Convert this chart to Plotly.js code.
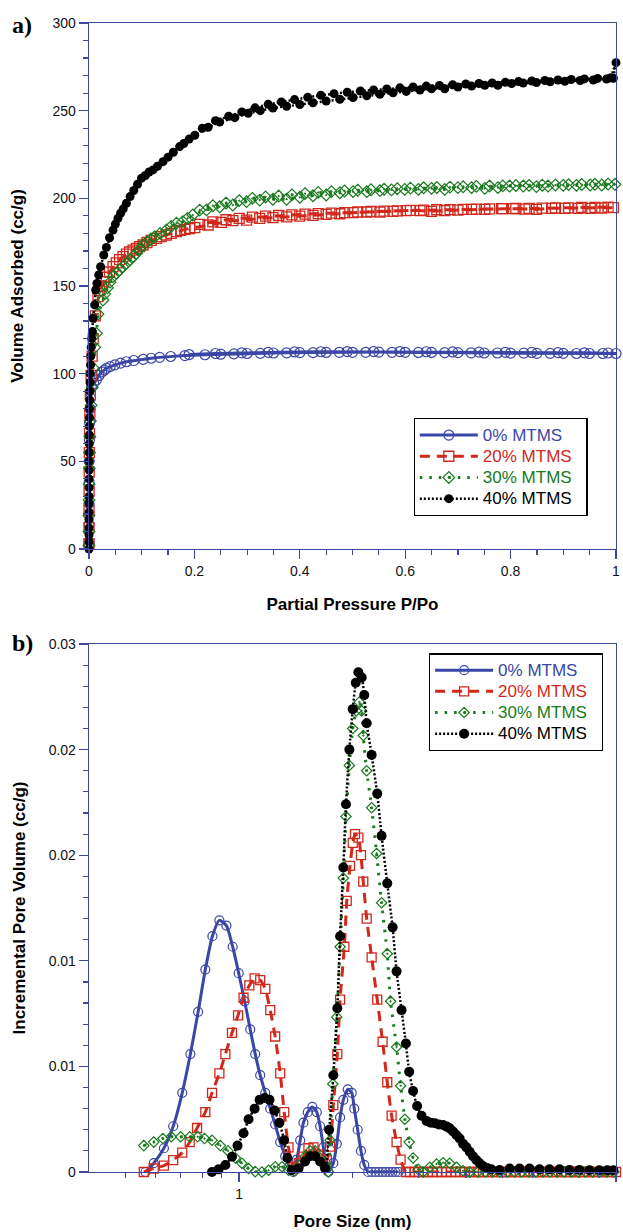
<!DOCTYPE html>
<html>
<head>
<meta charset="utf-8">
<script src="https://cdn.plot.ly/plotly-3.0.1.min.js"></script>
<style>html,body{margin:0;padding:0;background:#fff;}#chart{width:623px;height:1232px;}</style>
</head>
<body>
<div id="chart"></div>
<script>
// ---------- (a) Isotherms: Partial pressure P/Po vs volume adsorbed (cc/g) ----------
const SERIES = ['0% MTMS', '20% MTMS', '30% MTMS', '40% MTMS'];

const ISO_P_0 = [0.00001,0.00004,0.0001,0.0002,0.0004,0.0007,0.0012,0.002,0.003,0.0048,
  0.009,0.014,0.019,0.024,0.029,0.033,0.04,0.049,0.06,0.071,
  0.085,0.103,0.118,0.134,0.155,0.182,0.22,
  0.25,0.275,0.3,0.325,0.35,0.375,0.4,0.425,0.45,0.475,
  0.5,0.525,0.55,0.575,0.6,0.625,0.65,0.675,0.7,0.725,
  0.75,0.775,0.8,0.825,0.85,0.875,0.9,0.925,0.95,0.975,1.0];
const ISO_V_0 = [3,14,26,38,50,62,72,80,86,92.6,
  94.5,96.4,99,101,102,103,104,105,106,106.8,
  107.5,108.2,108.8,109.3,109.8,110.3,110.8,
  111.1,111.3,111.5,111.6,111.8,111.9,112,112,112.1,112.2,
  112.2,112.2,112.3,112.2,112.2,112.1,112.1,112,112,111.9,
  111.8,111.8,111.7,111.7,111.6,111.6,111.6,111.5,111.5,111.5,111.5];
const DES_P_0 = [0.985,0.94,0.89,0.84,0.79,0.74,0.69,0.64,0.59,0.54,0.49,0.44,0.39,0.34,0.29,0.24,0.19];
const DES_V_0 = [111.8,111.9,112,112.1,112.2,112.3,112.4,112.5,112.6,112.6,112.6,112.5,112.4,112.2,111.9,111.5,110.9];

const ISO_P_20 = [0.00001,0.00004,0.0001,0.0002,0.00035,0.0006,0.001,0.0016,0.0025,0.004,
  0.006,0.008,0.012,0.017,0.02,0.024,0.028,0.033,0.039,0.0456,
  0.052,0.058,0.0646,0.071,0.077,0.0835,0.09,0.096,0.1025,0.11,
  0.118,0.128,0.137,0.147,0.156,0.166,0.174,0.182,0.191,0.2007,
  0.226,0.251,0.273,0.299,0.324,0.349,0.375,0.40,0.425,0.45,
  0.476,0.501,0.527,0.552,0.577,0.602,0.628,0.65,0.675,0.70,
  0.726,0.751,0.783,0.805,0.827,0.849,0.878,0.903,0.928,0.951,
  0.973,0.995];
const ISO_V_20 = [3,12,22,33,44,55,66,77,88,99,
  110,120,133,144,147.5,150,152.5,155,158,161,
  163.2,165,166.7,168.2,169.4,170.5,171.5,172.5,173.4,174.8,
  176,177.2,178.2,179.1,180,181,181.7,182.3,182.8,183.3,
  184.8,186.3,187.3,187.6,188.6,189,189.4,189.9,190.3,190.9,
  191.2,191.8,192.2,192.2,192.6,193,193,192.6,193,193.3,
  193.7,193.7,194.1,194.1,193.9,193.7,194.3,194.3,194.3,194.3,
  194.5,194.7];
const DES_P = [0.985,0.96,0.935,0.91,0.885,0.86,0.835,0.81,0.785,0.76,
  0.735,0.71,0.685,0.66,0.635,0.61,0.585,0.56,0.535,0.51,
  0.485,0.46,0.435,0.41,0.385,0.36,0.335,0.31,0.285,0.26,0.235,0.21];
const DES_V_20 = [195,194.9,194.8,194.6,194.5,194.4,194.3,194.2,194.1,194,
  193.9,193.7,193.6,193.5,193.3,193.1,192.9,192.7,192.5,192.2,
  191.9,191.6,191.3,191,190.6,190.2,189.8,189.3,188.6,187.8,186.6,185.2];

const ISO_P_30 = [0.00001,0.00004,0.0001,0.0002,0.00035,0.0006,0.001,0.0016,0.0025,0.004,
  0.006,0.0085,0.0108,0.014,0.017,0.0266,0.03,0.035,0.04,0.0456,
  0.052,0.058,0.064,0.071,0.078,0.084,0.09,0.096,0.1025,0.11,
  0.117,0.1247,0.135,0.147,0.156,0.166,0.178,0.187,0.197,
  0.223,0.248,0.273,0.299,0.324,0.349,0.375,0.40,0.425,0.45,
  0.476,0.501,0.527,0.552,0.574,0.599,0.625,0.65,0.675,0.70,
  0.726,0.751,0.776,0.798,0.824,0.849,0.871,0.90,0.925,0.951,
  0.973,0.998];
const ISO_V_30 = [2,10,19,28,37,46,55,64,73,82,
  92,103,115,123,134,142,145.5,149,152.2,155.3,
  157.3,159.1,161,162.9,165,166.8,168.6,171,173.4,175,
  176.7,178.1,180,182,184,185.8,186.7,188.6,190.5,
  193.4,195.2,196.2,198.1,199,199.5,199.5,200.6,201.5,201.9,
  203.2,203.8,203.8,204.4,204.8,205.1,205.1,205.7,205.1,206.1,
  206.1,205.7,206.1,207,207,206.7,207,207.4,207.4,207.6,
  207.6,208];
const DES_V_30 = [208.2,208,207.9,207.8,207.6,207.5,207.4,207.3,207.1,207,
  206.8,206.6,206.4,206.2,206,205.8,205.5,205.2,204.9,204.6,
  204.2,203.8,203.4,202.7,202,201.3,200.8,200,198.7,197.3,195.8,193.3];

const ISO_P_40 = [0.000005,0.00001,0.00002,0.00003,0.00005,0.00007,0.0001,0.00013,0.00017,0.00022,
  0.00028,0.00035,0.00043,0.00052,0.00063,0.00076,0.0009,0.0011,0.0013,0.0016,
  0.0019,0.0023,0.0028,0.0034,0.0042,0.0053,0.0065,0.0076,
  0.0108,0.0127,0.015,0.0184,0.022,0.028,0.033,0.039,0.0456,0.05,
  0.055,0.06,0.065,0.071,0.078,0.085,0.092,0.0995,0.107,0.114,
  0.1215,0.13,0.1405,0.15,0.16,0.172,0.18,0.19,0.2007,
  0.226,0.248,0.2766,0.302,0.325,0.349,0.375,0.40,0.425,0.45,
  0.476,0.501,0.527,0.552,0.577,0.602,0.628,0.65,0.675,0.70,
  0.726,0.751,0.776,0.802,0.824,0.849,0.875,0.903,0.932,0.957,
  0.982,0.995,1.0];
const ISO_V_40 = [0,4,8,12,17,21,26,30,35,40,
  45,50,55,60,65,70,75,80,85,90,
  95,100,105,110,115,120,124,131.6,
  139.2,147.7,151.5,156.3,161,167.7,172,177.5,181.9,185.3,
  188.6,191.5,194,197.2,201,204.5,208,211.4,213,215,
  216.2,218.3,220.9,223.5,226.3,229.5,231.3,233.8,236,
  240.5,243.5,246,248.5,250,251.5,252.5,253.5,254.5,255.5,
  256.5,257.5,258.5,259.3,260.2,261,261.8,262.5,262.5,263.5,
  264,264.5,264.5,265.5,265.8,266,266.5,266.8,267.2,267.5,
  268,268.5,277.4];
const DES_P_40 = [0.99,0.965,0.94,0.915,0.89,0.865,0.84,0.815,0.79,0.765,
  0.74,0.715,0.69,0.665,0.64,0.615,0.59,0.565,0.54,0.515,
  0.49,0.465,0.44,0.415,0.39,0.365,0.34,0.315,0.29,0.265,0.24,0.215];
const DES_V_40 = [268.8,268.4,268.1,267.8,267.5,267.2,266.9,266.6,266.2,265.8,
  265.5,265.2,264.8,264.4,264,263.5,263,262.4,261.8,261.2,
  260.5,259.7,258.8,257.6,256.3,255,253.6,251.6,249.3,246.8,244.3,240];

// ---------- (b) Pore size distribution: pore size (nm) vs incremental pore volume (cc/g) ----------
const PSD_X_0 = [0.565,0.594,0.632,0.669,0.707,0.743,0.779,0.814,0.850,0.887,
  0.926,0.962,0.998,1.035,1.071,1.104,1.138,1.174,1.21,1.247,
  1.286,1.326,1.359,1.392,1.423,1.453,1.482,1.522,1.565,1.608,
  1.641,1.674,1.699,1.726,1.779,1.817,1.854,1.891,1.943,1.991,
  2.022,2.064,2.106,2.149,2.202,2.25,2.3,2.35,2.4,2.45,
  2.5,2.55,2.6,2.65];
const PSD_V_0 = [0,0.0005,0.00135,0.0026,0.0045,0.0067,0.0091,0.0115,0.0134,0.0143,
  0.014,0.0128,0.0113,0.0097,0.0081,0.0067,0.0055,0.0045,0.0036,0.0027,
  0.0017,0.0009,0.0003,0,0.0007,0.0018,0.0028,0.0034,0.0037,0.0034,
  0.0026,0.0014,0.0005,0,0.0005,0.0016,0.0031,0.0041,0.0047,0.0045,
  0.0036,0.0024,0.0012,0.0004,0,0,0,0,0,0,
  0,0,0,0];

const PSD_X_20 = [0.559,0.594,0.632,0.669,0.707,0.740,0.774,0.814,0.848,0.887,
  0.920,0.958,0.994,1.028,1.065,1.10,1.138,1.174,1.21,1.247,
  1.286,1.318,1.353,1.394,1.44,1.482,1.528,1.576,1.62,1.67,
  1.71,1.744,1.779,1.823,1.854,1.903,1.931,1.97,2.003,2.031,
  2.073,2.106,2.136,2.181,2.248,2.326,2.404,2.473,2.54,2.618,
  2.683,2.771,
  2.84,2.92,3.0,3.08,3.17,3.26,3.35,3.45,3.55,3.65,
  3.75,3.86,3.97,4.08,4.2,4.32,4.44,4.57,4.7,4.83,
  4.97,5.11,5.26,5.41,5.56,5.72,5.88,6.05,6.22,6.4,
  6.58,6.77,6.96,7.16,7.37,7.58,7.8,8.02,8.25,8.48,
  8.72,8.97,9.23,9.49,9.76,10];
const PSD_V_20 = [0,0.0002,0.00036,0.00068,0.0011,0.0017,0.0025,0.0034,0.0045,0.0056,
  0.0067,0.0079,0.0089,0.0099,0.0106,0.011,0.0109,0.0104,0.0092,0.0077,
  0.0056,0.0034,0.0014,0.0003,0.0005,0.00087,0.00135,0.0014,0.001,0.0007,
  0.0007,0.00144,0.0038,0.0067,0.0098,0.0128,0.0154,0.0174,0.0187,0.0192,
  0.019,0.018,0.0165,0.0144,0.0122,0.0098,0.0074,0.0051,0.0032,0.0017,
  0.0007,0,
  0,0,0,0,0,0,0,0,0,0,
  0,0,0,0,0,0,0,0,0,0,
  0,0,0,0,0,0,0,0,0,0,
  0,0,0,0,0,0,0,0,0,0,
  0,0,0,0,0,0];

const PSD_X_30 = [0.559,0.594,0.628,0.661,0.70,0.74,0.777,0.81,0.848,0.892,
  0.935,0.978,1.018,1.06,1.104,1.15,1.198,1.247,1.30,1.353,
  1.40,1.45,1.50,1.544,1.592,1.641,1.692,1.726,1.744,1.773,
  1.817,1.854,1.891,1.922,1.962,2.003,2.045,2.085,2.116,2.136,
  2.181,2.248,2.317,2.389,2.473,2.524,2.618,2.683,2.754,2.827,
  2.896,2.987,3.078,3.207,3.341,3.477,3.622,3.773,3.929,4.092,
  4.3,4.5,4.7,4.92,5.15,5.38,5.62,5.87,6.13,6.4,
  6.68,6.98,7.29,7.61,7.95,8.3,8.67,9.05,9.45,9.87];
const PSD_V_30 = [0.0015,0.0017,0.0019,0.002,0.002,0.002,0.002,0.0019,0.0018,0.0015,
  0.0012,0.0008,0.0005,0.0002,0.00002,0,0.0001,0.0003,0.0003,0.0001,
  0.00005,0.0004,0.0009,0.0012,0.0012,0.0008,0.0003,0,0.0018,0.005,
  0.0088,0.0128,0.0167,0.0202,0.0231,0.0252,0.0262,0.0267,0.0262,0.0248,
  0.0228,0.0207,0.0181,0.0153,0.0124,0.0097,0.0071,0.0049,0.003,0.0017,
  0.0008,0.00015,0,0.00027,0.00045,0.00053,0.0005,0.00027,0.00007,0,
  0,0,0,0,0,0,0,0,0,0,
  0,0,0,0,0,0,0,0,0,0];

const PSD_X_40 = [0.848,0.883,0.92,0.958,0.991,1.028,1.06,1.10,1.134,1.169,
  1.205,1.242,1.28,1.317,1.344,1.38,1.438,1.497,1.544,1.592,
  1.641,1.692,1.734,1.779,1.823,1.854,1.891,1.922,1.962,2.003,
  2.04,2.073,2.116,2.149,2.181,2.248,2.326,2.389,2.473,2.555,
  2.618,2.699,2.771,2.827,2.896,2.968,3.049,3.144,3.227,3.306,
  3.388,3.477,3.557,3.622,3.696,3.773,3.849,3.929,4.011,4.092,
  4.175,4.262,4.348,4.437,4.552,4.67,4.913,5.222,5.548,5.897,
  6.268,6.662,7.08,7.525,7.998,8.5,9.03,9.48,9.84];
const PSD_V_40 = [0,0.00015,0.0004,0.00087,0.0015,0.0022,0.003,0.0036,0.0041,0.0042,
  0.0041,0.0035,0.0028,0.0018,0.0008,0.0001,0.0002,0.0006,0.0009,0.0009,
  0.0006,0.0002,0.0024,0.0055,0.0093,0.0134,0.0173,0.0209,0.024,0.0263,
  0.0278,0.0284,0.0281,0.0271,0.0255,0.0237,0.0215,0.0191,0.0164,0.0139,
  0.0114,0.0092,0.0073,0.0057,0.0046,0.00375,0.0032,0.0029,0.0028,0.00277,
  0.0027,0.00267,0.00258,0.00248,0.0023,0.0021,0.0019,0.0016,0.0014,0.00115,
  0.0009,0.00068,0.0005,0.00034,0.00022,0.00015,0.00011,0.0002,0.0002,0.0002,
  0.00015,0.00015,0.00015,0.00012,0.00012,0.0001,0.0001,0.0001,0.0001];

// tick labels
const PSD_Y_TICKS = [0, 0.006, 0.012, 0.018, 0.024, 0.03];
const PSD_Y_LABELS = ['0', '0.01', '0.01', '0.02', '0.02', '0.03'];
const PSD_Y_MINOR = [0.0012,0.0024,0.0036,0.0048,0.0072,0.0084,0.0096,0.0108,0.0132,0.0144,0.0156,0.0168,0.0192,0.0204,0.0216,0.0228,0.0252,0.0264,0.0276,0.0288];
const PSD_X_TICKS = [1, 10];
const PSD_X_LABELS = ['1', '10'];
const PSD_X_MINOR = [0.5,0.6,0.7,0.8,0.9,2,3,4,5,6,7,8,9];

// ---------- styling ----------
const FONT = 'Liberation Sans, Arial, Helvetica, sans-serif';
const AXIS = '#3d49a0';
const COLORS = ['#3b47a6', '#d2281c', '#1a7a1e', '#000000'];

function nm(i) {
  return '<span style="color:' + COLORS[i] + ';font-size:17px">' + SERIES[i] + '\u00a0\u00a0</span>';
}

const styles = [
  {line: {color: COLORS[0], width: 3, dash: 'solid'}, marker: {symbol: 'circle-open', color: COLORS[0], size: 10, line: {width: 1.2, color: COLORS[0]}}},
  {line: {color: COLORS[1], width: 3, dash: '10px,7px'}, marker: {symbol: 'square-open', color: COLORS[1], size: 10, line: {width: 1.3, color: COLORS[1]}}},
  {line: {color: COLORS[2], width: 3, dash: '2.5px,7px'}, marker: {symbol: 'diamond-open-dot', color: COLORS[2], size: 9, line: {width: 1.2, color: COLORS[2]}}},
  {line: {color: COLORS[3], width: 2.5, dash: '2px,2px'}, marker: {symbol: 'circle', color: COLORS[3], size: 9, line: {width: 0}}}
];

const isoX = [ISO_P_0.concat(DES_P_0), ISO_P_20.concat(DES_P), ISO_P_30.concat(DES_P), ISO_P_40.concat(DES_P_40)];
const isoY = [ISO_V_0.concat(DES_V_0), ISO_V_20.concat(DES_V_20), ISO_V_30.concat(DES_V_30), ISO_V_40.concat(DES_V_40)];
const psdX = [PSD_X_0, PSD_X_20, PSD_X_30, PSD_X_40];
const psdY = [PSD_V_0, PSD_V_20, PSD_V_30, PSD_V_40];

const traces = [];
for (let i = 0; i < 4; i++) {
  traces.push({
    type: 'scatter', mode: 'lines+markers', x: isoX[i], y: isoY[i], xaxis: 'x', yaxis: 'y',
    name: nm(i), legend: 'legend', cliponaxis: false,
    line: Object.assign({}, styles[i].line, {shape: 'linear'}), marker: styles[i].marker
  });
}
const psdMarkerSize = [9, 9, 8, 10];
for (let i = 0; i < 4; i++) {
  traces.push({
    type: 'scatter', mode: 'lines+markers', x: psdX[i], y: psdY[i], xaxis: 'x2', yaxis: 'y2',
    name: nm(i), legend: 'legend2', cliponaxis: false,
    line: Object.assign({}, styles[i].line, {shape: 'spline', smoothing: 0.6}),
    marker: Object.assign({}, styles[i].marker, {size: psdMarkerSize[i]})
  });
}

const tickFont = {family: FONT, size: 14, color: '#111'};
const titleFont = {family: FONT, size: 17, color: '#000', weight: 'bold'};
const axisBase = {
  showline: true, linecolor: AXIS, linewidth: 1.3, mirror: true,
  ticks: 'outside', tickcolor: AXIS, ticklen: 9, tickwidth: 1.3,
  showgrid: false, zeroline: false, tickfont: tickFont
};
const minorBase = {ticks: 'outside', ticklen: 5, tickcolor: AXIS, tickwidth: 1.2, showgrid: false};

const legendBase = {
  bgcolor: '#ffffff', bordercolor: '#000000', borderwidth: 1.2,
  font: {family: FONT, size: 14, color: '#000'}, itemwidth: 58,
  xanchor: 'left', yanchor: 'top', tracegroupgap: 0
};

const layout = {
  width: 623, height: 1232,
  margin: {l: 89, r: 7, t: 23, b: 60},
  paper_bgcolor: '#fff', plot_bgcolor: '#fff',
  font: {family: FONT, color: '#000'},
  xaxis: Object.assign({}, axisBase, {
    domain: [0, 1], anchor: 'y', range: [0, 1], tick0: 0, dtick: 0.2,
    minor: Object.assign({}, minorBase, {tick0: 0, dtick: 0.05}),
    title: {text: 'Partial Pressure P/Po', font: titleFont, standoff: 20}
  }),
  yaxis: Object.assign({}, axisBase, {
    domain: [0.5422, 1], anchor: 'x', range: [0, 300], tick0: 0, dtick: 50,
    minor: Object.assign({}, minorBase, {tick0: 0, dtick: 10}),
    title: {text: 'Volume Adsorbed (cc/g)', font: titleFont, standoff: 24}
  }),
  xaxis2: Object.assign({}, axisBase, {
    domain: [0, 1], anchor: 'y2', type: 'log', range: [Math.log10(0.4), 1],
    tickmode: 'array', tickvals: PSD_X_TICKS, ticktext: PSD_X_LABELS,
    minor: Object.assign({}, minorBase, {tickmode: 'array', tickvals: PSD_X_MINOR}),
    title: {text: 'Pore Size (nm)', font: titleFont, standoff: 14}
  }),
  yaxis2: Object.assign({}, axisBase, {
    domain: [0, 0.4595], anchor: 'x2', range: [0, 0.03],
    tickmode: 'array', tickvals: PSD_Y_TICKS, ticktext: PSD_Y_LABELS,
    minor: Object.assign({}, minorBase, {tickmode: 'array', tickvals: PSD_Y_MINOR}),
    title: {text: 'Incremental Pore Volume (cc/g)', font: titleFont, standoff: 18}
  }),
  legend: Object.assign({}, legendBase, {x: 0.616, y: 0.656}),
  legend2: Object.assign({}, legendBase, {x: 0.645, y: 0.4514}),
  showlegend: true,
  annotations: [
    {text: 'a)', xref: 'paper', yref: 'paper', x: -0.150, y: 0.998, xanchor: 'left', yanchor: 'middle', showarrow: false,
     font: {family: 'Liberation Serif, Times New Roman, serif', size: 24, color: '#000', weight: 'bold'}},
    {text: 'b)', xref: 'paper', yref: 'paper', x: -0.150, y: 0.4605, xanchor: 'left', yanchor: 'middle', showarrow: false,
     font: {family: 'Liberation Serif, Times New Roman, serif', size: 24, color: '#000', weight: 'bold'}}
  ]
};

Plotly.newPlot('chart', traces, layout, {displayModeBar: false, staticPlot: true});
</script>
</body>
</html>
